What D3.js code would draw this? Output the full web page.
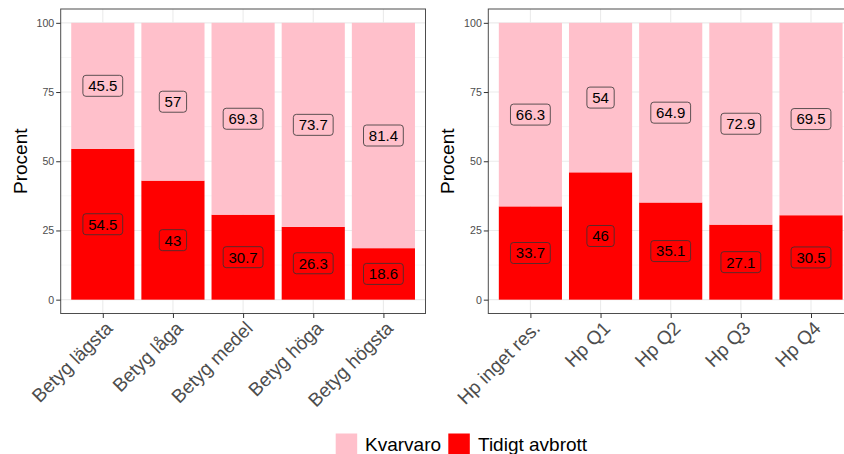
<!DOCTYPE html>
<html>
<head>
<meta charset="utf-8">
<script src="https://cdn.jsdelivr.net/npm/d3@7"></script>
<style>
  html, body { margin: 0; padding: 0; background: #fff; overflow: hidden; }
  svg { display: block; font-family: "Liberation Sans", Arial, sans-serif; }
</style>
</head>
<body>
<svg id="chart" width="844" height="454"></svg>
<script>
// ---- Data ----
const leftCategories = ["Betyg lägsta", "Betyg låga", "Betyg medel", "Betyg höga", "Betyg högsta"];
const leftTidigt = [54.5, 43, 30.7, 26.3, 18.6];
const leftKvarvaro = [45.5, 57, 69.3, 73.7, 81.4];

const rightCategories = ["Hp inget res.", "Hp Q1", "Hp Q2", "Hp Q3", "Hp Q4"];
const rightTidigt = [33.7, 46, 35.1, 27.1, 30.5];
const rightKvarvaro = [66.3, 54, 64.9, 72.9, 69.5];

const yTicks = [0, 25, 50, 75, 100];
const yMinorTicks = [12.5, 37.5, 62.5, 87.5];
const seriesNames = ["Kvarvaro", "Tidigt avbrott"];
const seriesColors = ["#FFC0CB", "#FF0000"];
const yTitle = "Procent";

// ---- Layout ----
const svg = d3.select("#chart");
const panelTop = 9, panelBottom = 313.5;
const panels = [
  { x0: 60.7, x1: 425.5, cats: leftCategories, tid: leftTidigt, kv: leftKvarvaro, titleX: 27 },
  { x0: 488.3, x1: 853.1, cats: rightCategories, tid: rightTidigt, kv: rightKvarvaro, titleX: 454.3 }
];

const y = d3.scaleLinear().domain([-5, 105]).range([panelBottom, panelTop]);
const color = d3.scaleOrdinal().domain(seriesNames).range(seriesColors);

panels.forEach(p => {
  const g = svg.append("g");
  const x = d3.scalePoint().domain(p.cats).range([p.x0, p.x1]).padding(0.6);
  const step = x.step();
  const barW = step * 0.9;

  const clipId = "clip" + Math.round(p.x0);
  svg.append("clipPath").attr("id", clipId)
    .append("rect").attr("x", p.x0).attr("y", panelTop).attr("width", p.x1 - p.x0).attr("height", panelBottom - panelTop);
  const pg = g.append("g").attr("clip-path", `url(#${clipId})`);

  // grid
  pg.selectAll(".minor").data(yMinorTicks).join("line")
    .attr("x1", p.x0).attr("x2", p.x1)
    .attr("y1", d => y(d)).attr("y2", d => y(d))
    .attr("stroke", "#F2F2F2").attr("stroke-width", 0.6);
  pg.selectAll(".major").data(yTicks).join("line")
    .attr("x1", p.x0).attr("x2", p.x1)
    .attr("y1", d => y(d)).attr("y2", d => y(d))
    .attr("stroke", "#EBEBEB").attr("stroke-width", 1.1);
  pg.selectAll(".vgrid").data(p.cats).join("line")
    .attr("x1", d => x(d)).attr("x2", d => x(d))
    .attr("y1", panelTop).attr("y2", panelBottom)
    .attr("stroke", "#EBEBEB").attr("stroke-width", 1.1);

  // stacked data
  const rows = p.cats.map((c, i) => ({ cat: c, "Tidigt avbrott": p.tid[i], "Kvarvaro": p.kv[i] }));
  const stack = d3.stack().keys(["Tidigt avbrott", "Kvarvaro"]);
  const series = stack(rows);

  series.forEach(s => {
    pg.selectAll(null).data(s).join("rect")
      .attr("x", d => x(d.data.cat) - barW / 2)
      .attr("width", barW)
      .attr("y", d => y(d[1]))
      .attr("height", d => y(d[0]) - y(d[1]))
      .attr("fill", color(s.key));
  });

  // labels
  series.forEach(s => {
    s.forEach(d => {
      const cx = x(d.data.cat);
      const cy = y((d[0] + d[1]) / 2);
      const val = d.data[s.key];
      const lg = pg.append("g").attr("transform", `translate(${cx},${cy})`);
      const rect = lg.append("rect");
      const t = lg.append("text")
        .attr("text-anchor", "middle")
        .attr("dy", "0.36em")
        .attr("font-size", 15)
        .attr("fill", "#000")
        .text(String(val));
      const w = t.node().getComputedTextLength() + 10.6;
      const h = 21;
      rect.attr("x", -w / 2).attr("y", -h / 2).attr("width", w).attr("height", h)
        .attr("rx", 3).attr("ry", 3)
        .attr("fill", color(s.key))
        .attr("stroke", "#333").attr("stroke-width", 0.8);
    });
  });

  // panel border
  g.append("rect")
    .attr("x", p.x0).attr("y", panelTop)
    .attr("width", p.x1 - p.x0).attr("height", panelBottom - panelTop)
    .attr("fill", "none").attr("stroke", "#4D4D4D").attr("stroke-width", 1);

  // y axis
  const yAxis = d3.axisLeft(y).tickValues(yTicks).tickSize(4.5).tickPadding(2);
  const ya = g.append("g").attr("transform", `translate(${p.x0},0)`).call(yAxis);
  ya.select(".domain").remove();
  ya.selectAll(".tick line").attr("stroke", "#333").attr("stroke-width", 1);
  ya.selectAll(".tick text").attr("fill", "#4D4D4D").attr("font-size", 10.6)
    .attr("font-family", "Liberation Sans, Arial, sans-serif");

  // x axis
  const xAxis = d3.axisBottom(x).tickSize(4.5).tickFormat(() => "");
  const xa = g.append("g").attr("transform", `translate(0,${panelBottom})`).call(xAxis);
  xa.select(".domain").remove();
  xa.selectAll(".tick line").attr("stroke", "#333").attr("stroke-width", 1);

  g.selectAll(".xlab").data(p.cats).join("text")
    .attr("transform", d => `translate(${x(d) + 1},${panelBottom + 6}) rotate(-45)`)
    .attr("text-anchor", "end")
    .attr("dy", "0.74em")
    .attr("font-size", 19)
    .attr("fill", "#4D4D4D")
    .text(d => d);

  // y title
  g.append("text")
    .attr("transform", `translate(${p.titleX},${(panelTop + panelBottom) / 2}) rotate(-90)`)
    .attr("text-anchor", "middle")
    .attr("font-size", 19)
    .attr("fill", "#000")
    .text(yTitle);
});

// ---- Legend ----
const legend = svg.append("g");
const legendItems = [
  { name: seriesNames[0], keyX: 335.7, textX: 365 },
  { name: seriesNames[1], keyX: 448.3, textX: 478 }
];
legendItems.forEach(it => {
  legend.append("rect")
    .attr("x", it.keyX).attr("y", 433.5).attr("width", 21.5).attr("height", 21.5)
    .attr("fill", color(it.name));
  legend.append("text")
    .attr("x", it.textX).attr("y", 451)
    .attr("font-size", 19).attr("fill", "#000")
    .text(it.name);
});
</script>
</body>
</html>
